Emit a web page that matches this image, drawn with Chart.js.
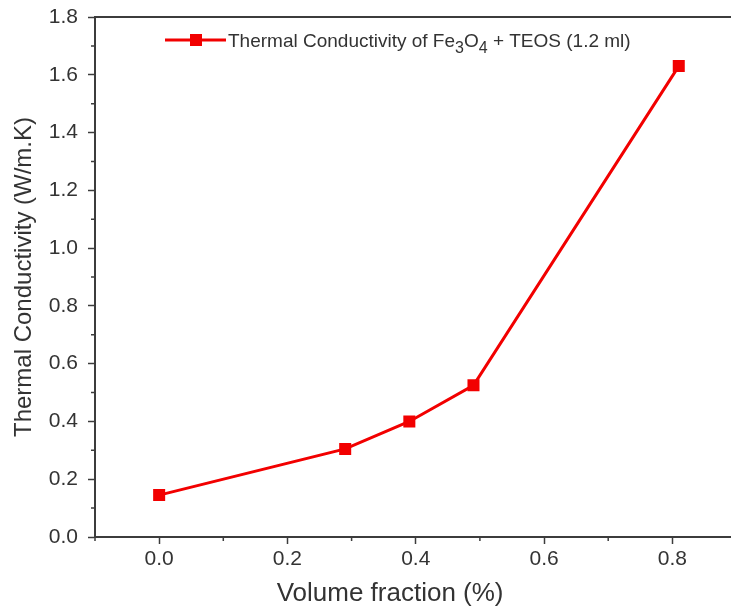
<!DOCTYPE html>
<html>
<head>
<meta charset="utf-8">
<script src="https://cdn.jsdelivr.net/npm/chart.js@4"></script>
<style>
  html, body { margin: 0; padding: 0; background: #fff; overflow: hidden; width: 731px; height: 609px; }
  canvas { display: block; }
</style>
</head>
<body>
<canvas id="chartTC" width="745" height="609"></canvas>
<script>
// data
const volumeFraction = [0, 0.29, 0.39, 0.49, 0.81];
const conductivity = [0.145, 0.305, 0.40, 0.525, 1.63];
const xTickValues = [0, 0.2, 0.4, 0.6, 0.8];
const yTickValues = [0, 0.2, 0.4, 0.6, 0.8, 1.0, 1.2, 1.4, 1.6, 1.8];
const seriesLabel = 'Thermal Conductivity of Fe3O4 + TEOS (1.2 ml)';
// legend text split into normal / subscript pieces
const legendParts = [
    ['Thermal Conductivity of Fe', false],
    ['3', true],
    ['O', false],
    ['4', true],
    [' + TEOS (1.2 ml)', false]
];
const xTitle = 'Volume fraction (%)';
const yTitle = 'Thermal Conductivity (W/m.K)';

const red = '#f20000';
const axisColor = '#3c3c3c';
const textColor = '#333333';
const fontFamily = 'Liberation Sans, Arial, sans-serif';

// minor ticks, top frame line, x title and the legend inside the plot
const framePlugin = {
    id: 'frame',
    afterDraw(chart) {
        const ctx = chart.ctx;
        const area = chart.chartArea;
        const xs = chart.scales.x;
        const ys = chart.scales.y;
        ctx.save();
        ctx.strokeStyle = axisColor;
        ctx.lineWidth = 2;
        ctx.beginPath();
        ctx.moveTo(area.left, area.top);
        ctx.lineTo(area.right, area.top);
        ctx.stroke();

        // minor ticks at half steps
        ctx.lineWidth = 1.5;
        ctx.beginPath();
        for (let v = -0.1; v <= 0.9; v += 0.2) {
            const px = xs.getPixelForValue(v);
            ctx.moveTo(px, area.bottom);
            ctx.lineTo(px, area.bottom + 4);
        }
        for (let v = 0.1; v < 1.8; v += 0.2) {
            const py = ys.getPixelForValue(v);
            ctx.moveTo(area.left, py);
            ctx.lineTo(area.left - 4, py);
        }
        ctx.stroke();

        // x axis title (sits a bit left of the plot centre in the original)
        ctx.fillStyle = textColor;
        ctx.font = '26px ' + fontFamily;
        ctx.textAlign = 'center';
        ctx.textBaseline = 'middle';
        ctx.fillText(xTitle, xs.getPixelForValue(0.36), 594);

        // legend
        const ly = 40;
        const lx = 165;
        ctx.strokeStyle = red;
        ctx.lineWidth = 3;
        ctx.beginPath();
        ctx.moveTo(lx, ly);
        ctx.lineTo(lx + 61, ly);
        ctx.stroke();
        ctx.fillStyle = red;
        ctx.fillRect(lx + 25, ly - 6, 12, 12);
        ctx.fillStyle = textColor;
        ctx.textAlign = 'left';
        ctx.textBaseline = 'alphabetic';
        let tx = lx + 63;
        legendParts.forEach(([txt, sub]) => {
            ctx.font = (sub ? '16px ' : '19px ') + fontFamily;
            ctx.fillText(txt, tx, ly + 7 + (sub ? 6 : 0));
            tx += ctx.measureText(txt).width;
        });
        ctx.restore();
    }
};

const ctx = document.getElementById('chartTC').getContext('2d');
const myChart = new Chart(ctx, {
    type: 'scatter',
    data: {
        datasets: [{
            label: seriesLabel,
            data: volumeFraction.map((x, i) => ({ x: x, y: conductivity[i] })),
            showLine: true,
            borderColor: red,
            backgroundColor: red,
            borderWidth: 3,
            pointStyle: 'rect',
            pointRadius: 8.5,
            pointHoverRadius: 8.5,
            pointBorderWidth: 0
        }]
    },
    options: {
        responsive: false,
        animation: false,
        layout: {
            padding: { top: 17, right: 5, left: 0, bottom: 0 }
        },
        plugins: {
            legend: { display: false },
            tooltip: { enabled: false }
        },
        scales: {
            x: {
                type: 'linear',
                min: -0.1,
                max: 0.9,
                afterBuildTicks: scale => {
                    scale.ticks = xTickValues.map(v => ({ value: v }));
                },
                afterFit: scale => {
                    scale.height = 72;
                    scale.paddingLeft = 0;
                    scale.paddingRight = 0;
                },
                border: { display: true, color: axisColor, width: 2 },
                grid: { drawOnChartArea: false, tickLength: 7, tickColor: axisColor, tickWidth: 1.5 },
                ticks: {
                    color: textColor,
                    font: { family: fontFamily, size: 21 },
                    padding: 3,
                    maxRotation: 0,
                    callback: v => v.toFixed(1)
                }
            },
            y: {
                type: 'linear',
                min: 0,
                max: 1.8,
                afterBuildTicks: scale => {
                    scale.ticks = yTickValues.map(v => ({ value: v }));
                },
                afterFit: scale => {
                    scale.width = 95;
                    scale.paddingTop = 0;
                    scale.paddingBottom = 0;
                },
                border: { display: true, color: axisColor, width: 2 },
                grid: { drawOnChartArea: false, tickLength: 7, tickColor: axisColor, tickWidth: 1.5 },
                ticks: {
                    color: textColor,
                    font: { family: fontFamily, size: 21 },
                    padding: 10,
                    callback: v => v.toFixed(1)
                },
                title: {
                    display: true,
                    text: yTitle,
                    color: textColor,
                    font: { family: fontFamily, size: 24 },
                    padding: { top: 10, bottom: 0 }
                }
            }
        }
    },
    plugins: [framePlugin]
});
</script>
</body>
</html>
